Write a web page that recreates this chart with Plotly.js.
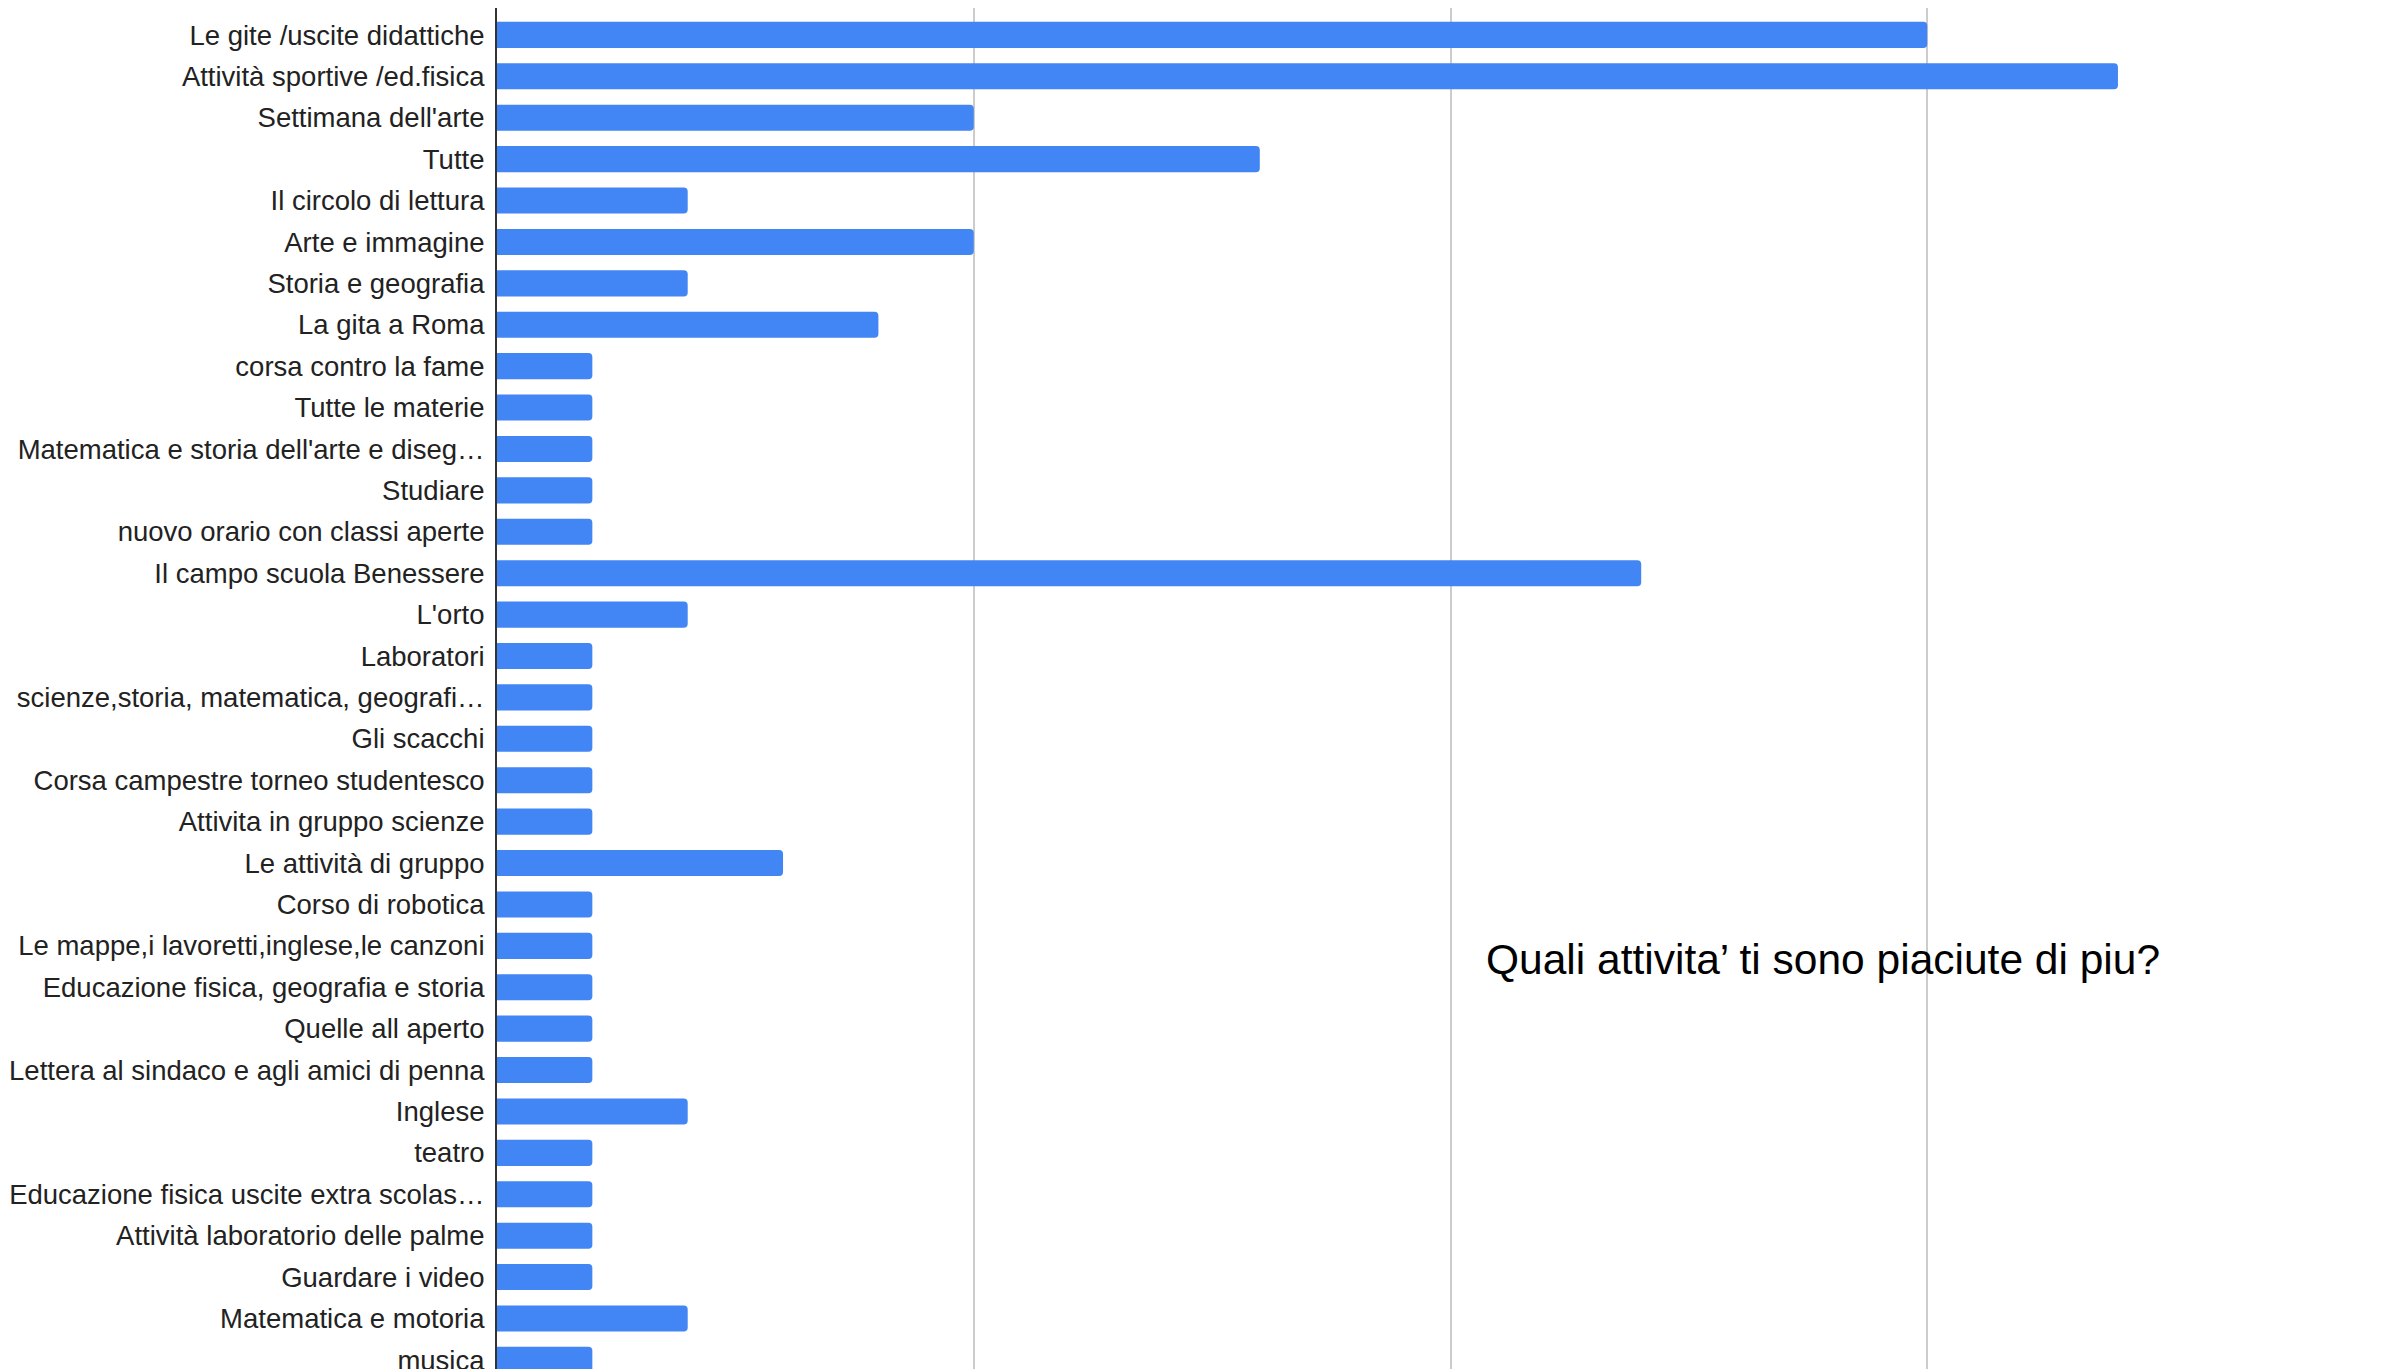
<!DOCTYPE html>
<html>
<head>
<meta charset="utf-8">
<script src="https://cdn.plot.ly/plotly-3.0.1.min.js"></script>
<style>html,body{margin:0;padding:0;background:#fff;}#chart{width:2407px;height:1369px;}</style>
</head>
<body>
<div id="chart"></div>
<script>
var categories = [
  "Le gite /uscite didattiche",
  "Attività sportive /ed.fisica",
  "Settimana dell'arte",
  "Tutte",
  "Il circolo di lettura",
  "Arte e immagine",
  "Storia e geografia",
  "La gita a Roma",
  "corsa contro la fame",
  "Tutte le materie",
  "Matematica e storia dell'arte e diseg…",
  "Studiare",
  "nuovo orario con classi aperte",
  "Il campo scuola Benessere",
  "L'orto",
  "Laboratori",
  "scienze,storia, matematica, geografi…",
  "Gli scacchi",
  "Corsa campestre torneo studentesco",
  "Attivita in gruppo scienze",
  "Le attività di gruppo",
  "Corso di robotica",
  "Le mappe,i lavoretti,inglese,le canzoni",
  "Educazione fisica, geografia e storia",
  "Quelle all aperto",
  "Lettera al sindaco e agli amici di penna",
  "Inglese",
  "teatro",
  "Educazione fisica uscite extra scolas…",
  "Attività laboratorio delle palme",
  "Guardare i video",
  "Matematica e motoria",
  "musica"
];
var counts = [15, 17, 5, 8, 2, 5, 2, 4, 1, 1, 1, 1, 1, 12, 2, 1, 1, 1, 1, 1, 3, 1, 1, 1, 1, 1, 2, 1, 1, 1, 1, 2, 1];
var xTicks = [0, 5, 10, 15, 20];
var chartTitle = "Quali attivita\u2019 ti sono piaciute di piu?";

var trace = {
  type: 'bar',
  orientation: 'h',
  x: counts,
  y: categories,
  marker: {color: '#4285f4', line: {width: 0}},
  width: 0.63,
  hoverinfo: 'x+y'
};

var layout = {
  width: 2407,
  height: 1369,
  margin: {l: 497, r: 3, t: 8, b: 0, pad: 0},
  paper_bgcolor: '#ffffff',
  plot_bgcolor: '#ffffff',
  showlegend: false,
  barcornerradius: 4,
  font: {family: 'Liberation Sans, Arial, sans-serif', color: '#222222'},
  xaxis: {
    range: [0, 20],
    tickvals: xTicks,
    showticklabels: false,
    showgrid: true,
    gridcolor: '#cccccc',
    gridwidth: 2,
    zeroline: false,
    showline: false,
    ticks: ''
  },
  yaxis: {
    type: 'category',
    categoryorder: 'array',
    categoryarray: categories,
    range: [32.22, -0.65],
    showgrid: false,
    zeroline: false,
    showline: true,
    linecolor: '#333333',
    linewidth: 2,
    ticks: '',
    ticklabelstandoff: 5,
    tickfont: {family: 'Liberation Sans, Arial, sans-serif', size: 27.5, color: '#222222'},
    automargin: false
  },
  annotations: [{
    text: chartTitle,
    xref: 'paper', yref: 'paper',
    x: (1484 - 497) / 1907, y: 1 - (959 - 8) / 1361,
    xanchor: 'left', yanchor: 'middle',
    showarrow: false,
    font: {family: 'Liberation Sans, Arial, sans-serif', size: 42.5, color: '#000000'}
  }]
};

Plotly.newPlot('chart', [trace], layout, {displayModeBar: false, staticPlot: true});
</script>
</body>
</html>
